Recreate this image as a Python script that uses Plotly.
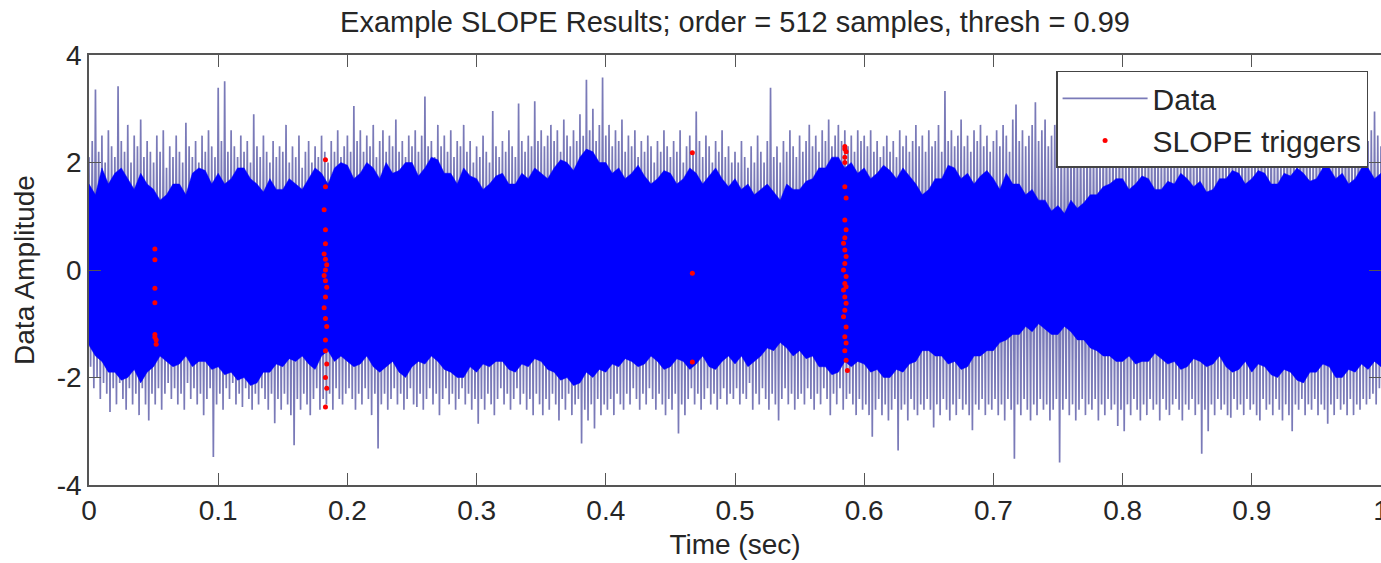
import numpy as np
import plotly.graph_objects as go

# ---- data ----
# spike peaks of the data trace, one high/low pair every 0.0025 s (t = 0 .. 1)
spike_step = 0.0025
spike_hi = [
    2.1, 2.4, 3.36, 2.2, 2.5, 2.0, 2.6, 2.3, 2.1, 3.42, 2.4, 2.2, 2.7, 2.0, 2.5, 2.3, 2.8, 2.1, 2.4, 2.2,
    2.0, 2.5, 2.2, 2.6, 1.9, 2.3, 2.1, 2.5, 2.2, 2.0, 2.74, 2.3, 2.1, 2.4, 2.0, 2.5, 2.2, 2.6, 2.3, 2.1,
    3.39, 2.4, 3.51, 2.2, 2.6, 2.3, 2.1, 2.5, 2.2, 2.4, 2.0, 2.9, 2.3, 2.1, 2.5, 2.2, 2.0, 2.4, 2.1, 2.3,
    2.2, 2.7, 2.0, 2.3, 2.1, 2.5, 1.9, 2.2, 2.4, 2.0, 2.3, 2.1, 2.5, 2.2, 2.0, 2.4, 2.2, 2.6, 2.1, 2.3,
    2.5, 2.2, 3.05, 2.4, 2.6, 2.2, 2.5, 2.3, 2.7, 2.1, 2.4, 2.6, 2.2, 2.5, 2.3, 2.8, 2.2, 2.4, 2.1, 2.5,
    2.3, 2.6, 2.2, 2.5, 3.23, 2.3, 2.4, 2.1, 2.7, 2.3, 2.5, 2.2, 2.6, 2.1, 2.4, 2.3, 2.7, 2.2, 2.4, 2.0,
    2.3, 2.1, 2.5, 2.2, 2.0, 2.96, 2.3, 2.1, 2.4, 2.2, 2.6, 2.3, 2.1, 3.1, 2.4, 2.2, 2.5, 2.3, 3.14, 2.4,
    2.6, 2.3, 2.5, 2.7, 2.4, 2.6, 2.2, 2.8, 2.5, 2.3, 2.6, 2.4, 2.9, 2.5, 3.54, 2.6, 3.0, 2.4, 2.7, 3.58,
    2.5, 2.7, 2.3, 2.6, 2.4, 2.8, 2.2, 2.5, 2.3, 2.6, 2.1, 2.4, 2.2, 2.5, 2.3, 2.0, 2.4, 2.2, 2.6, 2.3,
    2.1, 2.4, 2.2, 2.6, 2.0, 2.3, 2.5, 2.2, 2.95, 2.4, 2.1, 2.5, 2.3, 2.0, 2.4, 2.2, 2.6, 2.1, 2.3, 2.0,
    2.2, 2.0, 2.4, 2.1, 1.9, 2.3, 2.0, 2.5, 2.2, 2.0, 2.4, 3.39, 2.1, 2.3, 2.0, 2.4, 2.2, 2.6, 2.3, 2.1,
    2.5, 2.2, 2.4, 2.7, 2.3, 2.5, 2.2, 2.6, 2.4, 2.8, 2.3, 2.5, 2.7, 2.4, 2.6, 2.3, 2.5, 2.2, 2.6, 2.4,
    2.5, 2.3, 2.6, 2.2, 2.4, 2.1, 2.3, 2.5, 2.2, 2.4, 2.1, 2.6, 2.3, 2.5, 2.2, 2.4, 2.7, 2.3, 2.5, 2.2,
    2.6, 2.3, 2.4, 2.7, 2.2, 3.33, 2.4, 2.6, 2.3, 2.5, 2.8, 2.3, 2.5, 2.2, 2.6, 2.4, 2.7, 2.3, 2.5, 2.2,
    2.4, 2.6, 2.3, 2.7, 2.5, 2.2, 2.8, 3.08, 2.4, 2.6, 2.3, 2.5, 2.7, 3.12, 2.4, 2.6, 2.8, 2.3, 2.5, 2.7,
    2.4, 2.6, 2.3, 2.7, 2.5, 2.8, 2.4, 2.6, 2.3, 2.5, 2.7, 2.4, 2.6, 2.2, 2.5, 2.7, 2.3, 2.6, 2.4, 2.8,
    2.5, 2.3, 2.6, 2.4, 2.7, 2.2, 2.5, 2.3, 2.6, 2.4, 2.8, 2.5, 2.3, 2.6, 2.4, 2.7, 2.3, 2.5, 2.2, 2.6,
    2.4, 2.7, 2.3, 2.5, 2.8, 2.4, 2.6, 2.3, 2.5, 2.7, 2.2, 2.6, 2.4, 2.8, 2.5, 2.3, 2.6, 2.4, 2.7, 2.5,
    2.3, 2.6, 2.4, 2.8, 2.5, 2.3, 2.7, 2.4, 2.6, 2.2, 2.5, 2.8, 2.4, 2.6, 2.3, 2.7, 2.5, 2.4, 2.6, 2.3,
    2.5, 2.7, 2.4, 2.6, 2.8, 2.3, 2.5, 2.7, 2.4, 2.6, 2.9, 2.4, 2.6, 2.8, 2.5, 2.7, 2.4, 2.6, 2.95, 2.5,
    2.3,
]
spike_lo = [
    -1.8, -2.2, -2.0, -2.4, -2.1, -2.3, -2.64, -2.2, -2.5, -2.1, -2.4, -2.6, -2.2, -2.5, -2.3, -2.7, -2.2, -2.5, -2.8, -2.3,
    -2.5, -2.2, -2.6, -2.3, -2.1, -2.4, -2.2, -2.5, -2.3, -2.6, -2.1, -2.4, -2.2, -2.5, -2.3, -2.7, -2.4, -2.2, -3.48, -2.5,
    -2.3, -2.6, -2.2, -2.4, -2.1, -2.5, -2.3, -2.55, -2.2, -2.4, -2.6, -2.3, -2.5, -2.2, -2.4, -2.6, -2.3, -2.85, -2.4, -2.6,
    -2.3, -2.5, -2.7, -3.26, -2.4, -2.6, -2.3, -2.5, -2.7, -2.4, -2.2, -2.6, -2.4, -2.5, -2.3, -2.6, -2.2, -2.4, -2.5, -2.3,
    -2.2, -2.4, -2.6, -2.3, -2.5, -2.2, -2.4, -2.7, -2.3, -3.32, -2.5, -2.3, -2.6, -2.4, -2.2, -2.5, -2.3, -2.6, -2.4, -2.2,
    -2.5, -2.55, -2.3, -2.6, -2.4, -2.2, -2.5, -2.3, -2.7, -2.4, -2.2, -2.5, -2.3, -2.6, -2.4, -2.2, -2.5, -2.3, -2.6, -2.4,
    -2.86, -2.4, -2.6, -2.3, -2.5, -2.7, -2.4, -2.2, -2.5, -2.3, -2.6, -2.4, -2.2, -2.5, -2.3, -2.6, -2.4, -2.7, -2.3, -2.5,
    -2.7, -2.4, -2.6, -2.3, -2.5, -2.8, -2.4, -2.6, -2.3, -2.7, -2.5, -2.4, -3.23, -2.6, -2.8, -2.5, -2.95, -2.4, -2.7, -2.5,
    -2.6, -2.4, -2.7, -2.3, -2.5, -2.6, -2.3, -2.5, -2.2, -2.4, -2.6, -2.3, -2.5, -2.2, -2.4, -2.6, -2.3, -2.5, -2.7, -2.4,
    -2.6, -2.3, -3.04, -2.5, -2.7, -2.4, -2.2, -2.5, -2.3, -2.6, -2.4, -2.2, -2.5, -2.3, -2.6, -2.4, -2.2, -2.5, -2.3, -2.4,
    -2.2, -2.5, -2.3, -2.4, -2.1, -2.6, -2.3, -2.5, -2.2, -2.4, -2.6, -2.3, -2.5, -2.8, -2.4, -2.2, -2.5, -2.3, -2.6, -2.4,
    -2.3, -2.5, -2.2, -2.4, -2.6, -2.3, -2.5, -2.2, -2.4, -2.7, -2.3, -2.5, -2.2, -2.6, -2.4, -2.3, -2.5, -2.7, -2.4, -2.6,
    -2.5, -2.7, -3.1, -2.6, -2.4, -2.7, -2.5, -2.8, -2.6, -2.4, -3.36, -2.6, -2.5, -2.8, -2.4, -2.6, -2.7, -2.5, -2.6, -2.4,
    -2.6, -2.93, -2.5, -2.7, -2.4, -2.6, -2.8, -2.5, -2.7, -2.4, -2.6, -2.5, -2.7, -2.98, -2.5, -2.6, -2.4, -2.7, -2.5, -2.6,
    -2.4, -2.7, -2.5, -2.8, -2.4, -2.6, -3.51, -2.5, -2.7, -2.4, -2.6, -2.8, -2.5, -2.7, -2.4, -2.6, -2.5, -2.8, -2.6, -2.4,
    -3.58, -2.6, -2.4, -2.7, -2.5, -2.8, -2.6, -2.4, -2.7, -2.5, -2.6, -2.4, -2.8, -2.5, -2.7, -2.4, -2.6, -2.5, -2.9, -2.6,
    -3.0, -2.5, -2.7, -2.4, -2.6, -2.8, -2.5, -2.7, -2.4, -2.6, -2.5, -2.8, -2.4, -2.6, -2.7, -2.5, -2.4, -2.6, -2.8, -2.5,
    -2.6, -2.4, -2.7, -2.5, -3.42, -2.6, -3.0, -2.5, -2.7, -2.4, -2.6, -2.5, -2.7, -2.75, -2.4, -2.6, -2.5, -2.7, -2.4, -2.6,
    -2.5, -2.7, -2.8, -2.4, -2.6, -2.5, -2.7, -2.4, -2.6, -2.8, -2.5, -2.7, -3.0, -2.5, -2.6, -2.4, -2.7, -2.5, -2.6, -2.4,
    -2.7, -2.5, -2.6, -2.86, -2.5, -2.7, -2.4, -2.6, -2.5, -2.7, -2.4, -2.7, -2.5, -2.6, -2.4, -2.5, -2.4, -2.3, -2.5, -2.2,
    -2.1,
]
# edges of the dense (solid) core of the data trace, every 0.005 s
core_step = 0.005
core_hi = [
    1.6, 1.4, 1.9, 1.6, 1.8, 1.9, 1.7, 1.5, 1.8, 1.6, 1.5, 1.3, 1.4, 1.6, 1.6, 1.4, 1.8, 1.9, 1.85, 1.6,
    1.8, 1.6, 1.7, 1.9, 1.9, 1.7, 1.6, 1.45, 1.7, 1.5, 1.5, 1.7, 1.6, 1.5, 1.7, 1.9, 1.8, 1.6, 1.9, 2.0,
    1.95, 1.7, 1.8, 2.0, 1.9, 1.7, 2.0, 1.8, 1.85, 2.0, 2.0, 1.75, 1.9, 2.1, 2.05, 1.8, 1.8, 1.6, 1.9, 1.75,
    1.7, 1.5, 1.6, 1.75, 1.8, 1.6, 1.6, 1.8, 1.7, 1.9, 1.8, 1.7, 1.9, 2.05, 2.0, 1.85, 2.1, 2.25, 2.2, 2.0,
    2.0, 1.8, 1.9, 1.7, 1.8, 1.95, 1.75, 1.6, 1.7, 1.85, 1.8, 1.6, 1.7, 1.9, 1.8, 1.6, 1.75, 1.9, 1.7, 1.55,
    1.7, 1.5, 1.6, 1.4, 1.5, 1.6, 1.45, 1.3, 1.6, 1.5, 1.5, 1.65, 1.7, 1.9, 1.9, 2.1, 2.1, 1.9, 2.0, 1.8,
    1.9, 1.7, 1.8, 1.95, 1.85, 1.7, 1.9, 1.75, 1.6, 1.4, 1.5, 1.7, 1.7, 1.95, 1.9, 1.7, 1.8, 1.6, 1.75, 1.85,
    1.7, 1.5, 1.8, 1.6, 1.6, 1.4, 1.5, 1.3, 1.3, 1.1, 1.2, 1.05, 1.3, 1.15, 1.25, 1.4, 1.4, 1.55, 1.6, 1.7,
    1.7, 1.5, 1.6, 1.75, 1.7, 1.5, 1.5, 1.65, 1.6, 1.8, 1.7, 1.55, 1.65, 1.45, 1.5, 1.7, 1.7, 1.85, 1.8, 1.6,
    1.7, 1.85, 1.8, 1.6, 1.6, 1.8, 1.75, 1.9, 1.8, 1.65, 1.7, 1.9, 1.9, 1.7, 1.8, 1.6, 1.7, 1.9, 1.9, 1.7,
    1.8,
]
core_lo = [
    -1.4, -1.6, -1.7, -1.9, -1.9, -2.05, -2.0, -1.85, -2.1, -1.9, -1.8, -1.6, -1.7, -1.8, -1.75, -1.6, -1.8, -1.7, -1.7, -1.85,
    -1.8, -1.95, -1.9, -2.05, -2.0, -2.15, -2.1, -1.9, -1.9, -1.75, -1.8, -1.65, -1.7, -1.6, -1.75, -1.85, -1.6, -1.5, -1.7, -1.6,
    -1.7, -1.8, -1.75, -1.6, -1.8, -1.9, -1.8, -1.7, -1.9, -2.0, -1.8, -1.7, -1.75, -1.6, -1.7, -1.85, -1.9, -2.0, -2.0, -1.8,
    -1.9, -1.75, -1.8, -1.7, -1.7, -1.85, -1.9, -1.75, -1.8, -1.65, -1.7, -1.85, -1.9, -2.05, -2.0, -2.15, -2.1, -1.9, -2.0, -1.85,
    -1.9, -1.75, -1.8, -1.65, -1.7, -1.8, -1.75, -1.6, -1.7, -1.85, -1.8, -1.65, -1.7, -1.85, -1.75, -1.6, -1.8, -1.85, -1.7, -1.6,
    -1.75, -1.6, -1.8, -1.7, -1.6, -1.45, -1.5, -1.35, -1.45, -1.6, -1.5, -1.65, -1.6, -1.8, -1.8, -1.95, -1.9, -1.7, -1.8, -1.7,
    -1.75, -1.9, -1.85, -2.0, -2.0, -1.85, -1.9, -1.75, -1.7, -1.5, -1.5, -1.6, -1.6, -1.75, -1.7, -1.85, -1.8, -1.6, -1.6, -1.5,
    -1.5, -1.35, -1.3, -1.2, -1.2, -1.05, -1.15, -1.0, -1.1, -1.2, -1.2, -1.05, -1.15, -1.3, -1.3, -1.45, -1.5, -1.6, -1.6, -1.7,
    -1.7, -1.6, -1.75, -1.7, -1.7, -1.55, -1.65, -1.75, -1.7, -1.85, -1.8, -1.65, -1.7, -1.8, -1.75, -1.6, -1.8, -1.9, -1.85, -1.7,
    -1.9, -1.75, -1.8, -1.95, -2.0, -1.85, -1.9, -2.05, -2.1, -1.9, -1.9, -1.75, -1.8, -2.0, -2.0, -1.85, -1.9, -1.75, -1.85, -1.7,
    -1.8,
]
# SLOPE trigger points (time, amplitude)
trig_t = [
    0.051, 0.051, 0.051, 0.051, 0.051, 0.052, 0.052, 0.051,
    0.183, 0.183, 0.182, 0.183, 0.183, 0.182, 0.183, 0.184, 0.183, 0.182,
    0.183, 0.184, 0.183, 0.182, 0.183, 0.184, 0.183, 0.183, 0.184, 0.183,
    0.184, 0.183,
    0.467, 0.467, 0.467,
    0.585, 0.585, 0.586, 0.585, 0.585, 0.585, 0.586, 0.585, 0.586, 0.585,
    0.584, 0.585, 0.586, 0.585, 0.584, 0.586, 0.585, 0.586, 0.584, 0.585,
    0.586, 0.585, 0.584, 0.586, 0.585, 0.586, 0.585, 0.586, 0.587,
]
trig_y = [
    0.39, 0.19, -0.34, -0.61, -1.2, -1.3, -1.38, -1.25,
    2.05, 1.55, 1.12, 0.75, 0.49, 0.3, 0.2, 0.1, 0.0, -0.1,
    -0.2, -0.32, -0.5, -0.7, -0.9, -1.05, -1.3, -1.5, -1.75, -2.0,
    -2.2, -2.55,
    2.18, -0.06, -1.71,
    2.3, 2.25, 2.2, 2.1, 2.0, 1.55, 1.34, 0.93, 0.75, 0.6,
    0.5, 0.37, 0.25, 0.12, 0.0, -0.12, -0.25, -0.31, -0.37, -0.5,
    -0.62, -0.75, -0.87, -1.06, -1.24, -1.36, -1.5, -1.68, -1.87, -1.9,
]
x_tickvals = [0, 0.1, 0.2, 0.3, 0.4, 0.5, 0.6, 0.7, 0.8, 0.9, 1.0]
x_ticktext = ["0", "0.1", "0.2", "0.3", "0.4", "0.5", "0.6", "0.7", "0.8", "0.9", "1"]
y_tickvals = [-4, -2, 0, 2, 4]
y_ticktext = ["-4", "-2", "0", "2", "4"]

# ---- build the traces ----
t_spk = np.arange(len(spike_hi)) * spike_step
line_x, line_y = [], []
for t, h, l in zip(t_spk, spike_hi, spike_lo):
    line_x += [t, t + spike_step / 2]
    line_y += [h, l]

t_core = np.arange(len(core_hi)) * core_step
core_x = list(t_core) + list(t_core[::-1])
core_y = list(core_hi) + list(core_lo[::-1])

FONT = "Liberation Sans, Arial, Helvetica, sans-serif"
TXT = "#262626"
AX = "#555555"

fig = go.Figure()
fig.add_trace(go.Scatter(
    x=line_x, y=line_y, mode="lines", name="Data",
    line=dict(color="rgb(122,122,184)", width=1.7),
    hoverinfo="skip",
))
fig.add_trace(go.Scatter(
    x=core_x, y=core_y, mode="lines", fill="toself",
    fillcolor="rgb(0,0,255)", line=dict(color="rgb(0,0,255)", width=0.5),
    showlegend=False, hoverinfo="skip",
))
fig.add_trace(go.Scatter(
    x=trig_t, y=trig_y, mode="markers", name="SLOPE triggers",
    marker=dict(color="rgb(255,0,0)", size=5, line=dict(width=0)),
))

fig.update_layout(
    width=1381, height=563,
    margin=dict(l=89, r=0, t=55, b=78),
    paper_bgcolor="white", plot_bgcolor="white",
    font=dict(family=FONT, size=28, color=TXT),
    title=dict(
        text="Example SLOPE Results; order = 512 samples, thresh = 0.99",
        x=0.5, xref="paper", xanchor="center",
        y=1 - 22 / 563, yref="container", yanchor="middle",
        font=dict(family=FONT, size=29, color=TXT),
    ),
    legend=dict(
        x=0.99, xanchor="right", y=0.963, yanchor="top",
        bgcolor="white", bordercolor="#444444", borderwidth=1.5,
        font=dict(family=FONT, size=30, color=TXT),
        itemwidth=85, tracegroupgap=0,
    ),
    showlegend=True,
)
fig.update_xaxes(
    range=[0, 1], tickvals=x_tickvals, ticktext=x_ticktext,
    ticks="inside", ticklen=12, tickwidth=1.3, tickcolor=AX,
    showline=True, linecolor=AX, linewidth=1.5, mirror="ticks",
    showgrid=False, zeroline=False, automargin=False,
    ticklabeloverflow="allow",
    tickfont=dict(family=FONT, size=28, color=TXT),
    title=dict(text="Time (sec)", font=dict(family=FONT, size=28, color=TXT), standoff=9),
)
fig.update_yaxes(
    range=[-4, 4], tickvals=y_tickvals, ticktext=y_ticktext,
    ticks="inside", ticklen=12, tickwidth=1.3, tickcolor=AX,
    showline=True, linecolor=AX, linewidth=1.5, mirror="ticks",
    showgrid=False, zeroline=False, automargin=False,
    tickfont=dict(family=FONT, size=28, color=TXT),
    title=dict(text="Data Amplitude", font=dict(family=FONT, size=28, color=TXT), standoff=14),
)

# remove the default 8px page margin so the figure fills the window exactly
fig.write_html(
    "out.html",
    config={"displayModeBar": False},
    post_script="document.body.style.margin='0';document.body.style.overflow='hidden';",
)
